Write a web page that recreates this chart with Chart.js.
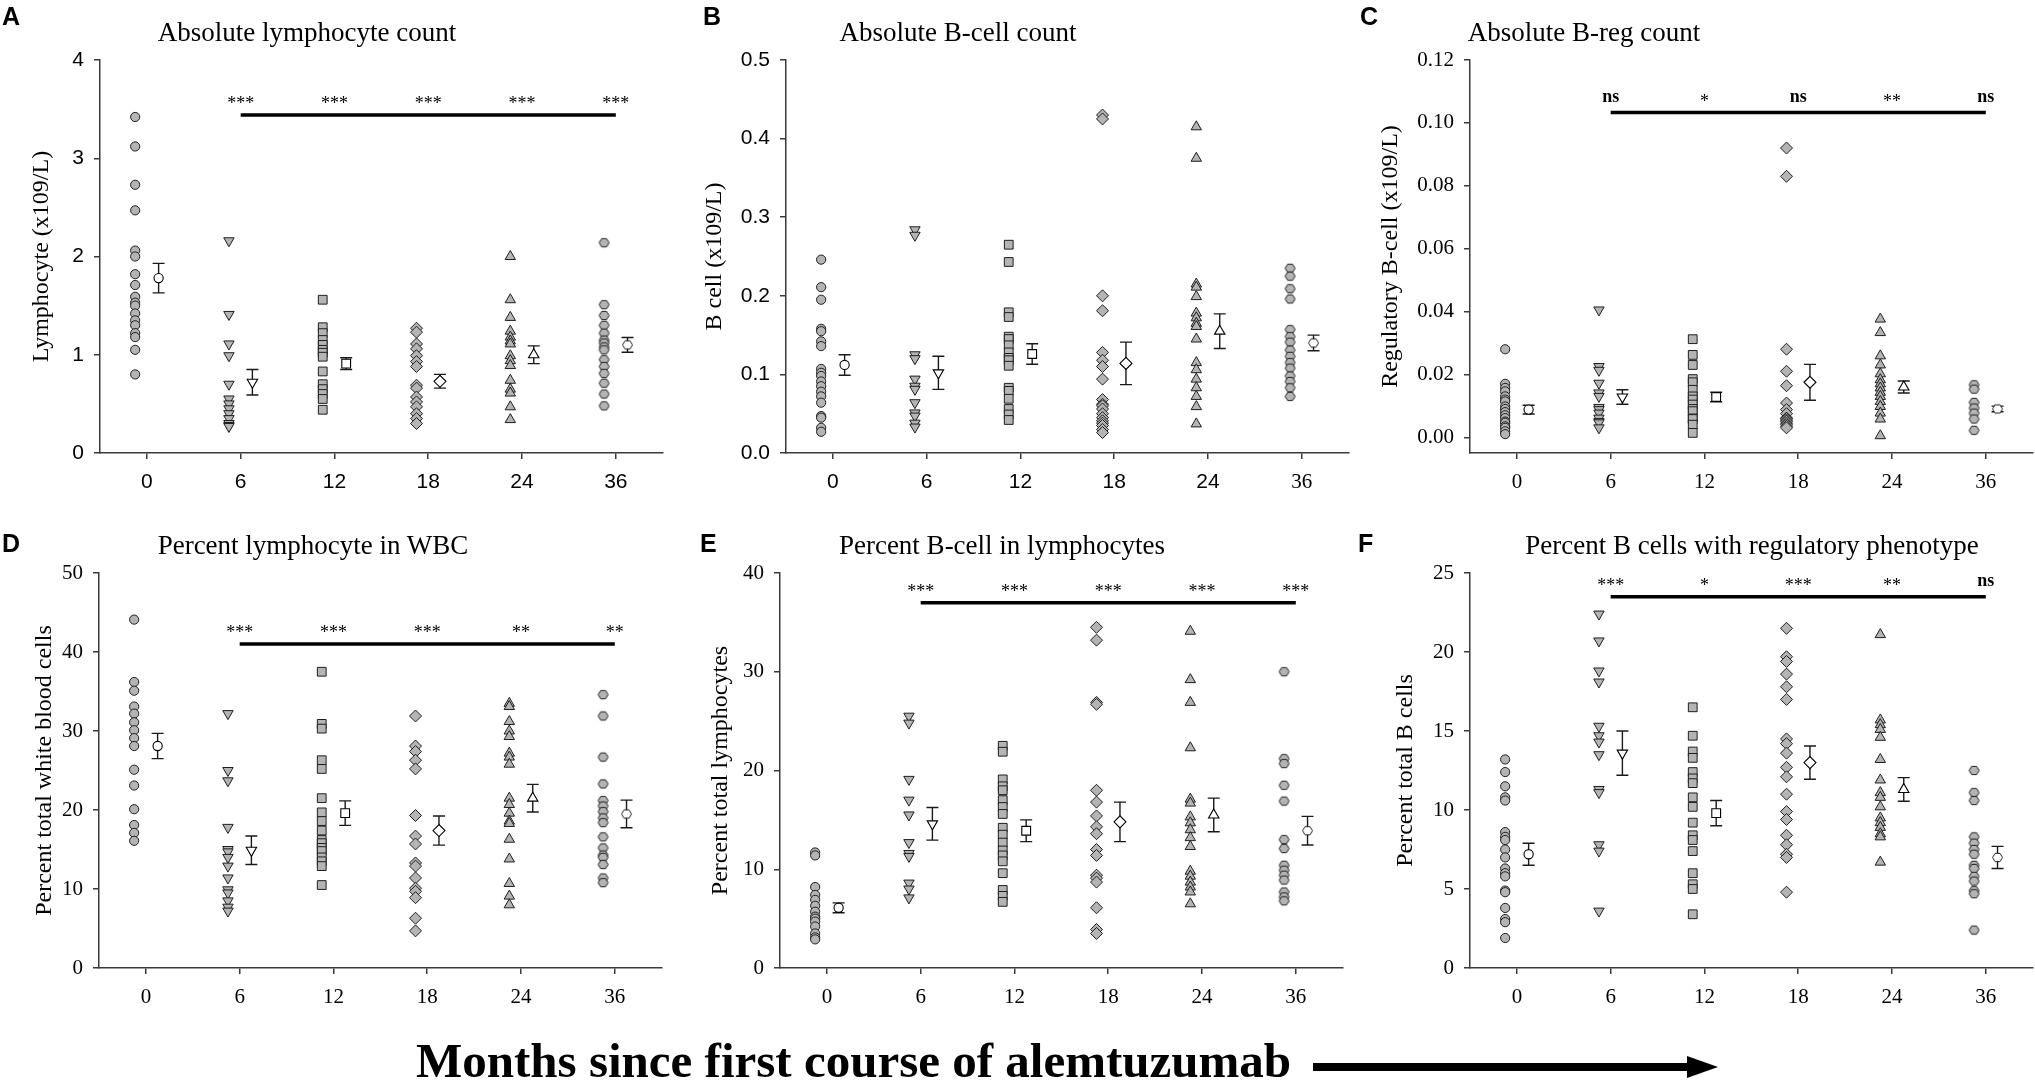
<!DOCTYPE html>
<html>
<head>
<meta charset="utf-8">
<script src="https://cdn.jsdelivr.net/npm/chart.js@4.4.1/dist/chart.umd.min.js"></script>
<style>
  body { margin: 0; background: #fff; width: 2035px; height: 1082px; position: relative; overflow: hidden; }
  canvas { position: absolute; }
  .letter { position: absolute; font: bold 25px "Liberation Sans", Arial, sans-serif; line-height: 25px; color: #000; }
  .ptitle { position: absolute; width: 800px; text-align: center; white-space: nowrap;
            font: 27px "Liberation Serif", "Times New Roman", serif; line-height: 27px; color: #000; }
  #xtitle { position: absolute; left: 416px; top: 1036px; white-space: nowrap;
            font: bold 49px "Liberation Serif", "Times New Roman", serif; line-height: 49px; color: #000; }
  #arrow { position: absolute; left: 1313px; top: 1052px; }
</style>
</head>
<body>
<canvas id="cA"></canvas>
<canvas id="cB"></canvas>
<canvas id="cC"></canvas>
<canvas id="cD"></canvas>
<canvas id="cE"></canvas>
<canvas id="cF"></canvas>

<div class="letter" style="left:2px;top:4px">A</div>
<div class="letter" style="left:703px;top:4px">B</div>
<div class="letter" style="left:1360px;top:4px">C</div>
<div class="letter" style="left:2px;top:531px">D</div>
<div class="letter" style="left:700px;top:531px">E</div>
<div class="letter" style="left:1358px;top:531px">F</div>

<div class="ptitle" style="left:-93px;top:19px">Absolute lymphocyte count</div>
<div class="ptitle" style="left:558px;top:19px">Absolute B-cell count</div>
<div class="ptitle" style="left:1184px;top:19px">Absolute B-reg count</div>
<div class="ptitle" style="left:-87px;top:532px">Percent lymphocyte in WBC</div>
<div class="ptitle" style="left:602px;top:532px">Percent B-cell in lymphocytes</div>
<div class="ptitle" style="left:1352px;top:532px">Percent B cells with regulatory phenotype</div>

<div id="xtitle">Months since first course of alemtuzumab</div>
<svg id="arrow" width="410" height="30">
  <rect x="0" y="11" width="376" height="8" fill="#000"></rect>
  <polygon points="374,4 405,15 374,26" fill="#000"></polygon>
</svg>

<script>
// timepoints (months since first course)
const months = ["0", "6", "12", "18", "24", "36"];

// A: absolute lymphocyte count (x109/L)
const lymphCount = [
  [3.42, 3.12, 2.73, 2.47, 2.06, 2.00, 1.82, 1.71, 1.59, 1.53, 1.50, 1.42, 1.35, 1.30, 1.22, 1.18, 1.05, 0.80],
  [2.16, 1.41, 1.11, 0.99, 0.70, 0.55, 0.50, 0.45, 0.40, 0.35, 0.30, 0.28, 0.27],
  [1.56, 1.28, 1.22, 1.15, 1.10, 1.05, 1.02, 0.98, 0.83, 0.70, 0.65, 0.60, 0.55, 0.44],
  [1.27, 1.23, 1.11, 1.06, 0.99, 0.93, 0.88, 0.69, 0.66, 0.57, 0.52, 0.47, 0.40, 0.35, 0.30],
  [2.00, 1.56, 1.38, 1.24, 1.18, 1.14, 1.11, 0.99, 0.94, 0.89, 0.74, 0.65, 0.61, 0.47, 0.34],
  [2.14, 1.51, 1.40, 1.30, 1.22, 1.15, 1.12, 1.08, 1.05, 0.95, 0.88, 0.81, 0.71, 0.60, 0.48],
];
const lymphMean = [1.78, 0.72, 0.91, 0.73, 1.00, 1.10];
const lymphSem = [0.15, 0.13, 0.06, 0.07, 0.09, 0.075];
const lymphSig = ["***", "***", "***", "***", "***"];
const lymphTicks = [0, 1, 2, 3, 4];

// B: absolute B-cell count (x109/L)
const bcellCount = [
  [0.246, 0.211, 0.195, 0.158, 0.155, 0.142, 0.136, 0.107, 0.102, 0.098, 0.091, 0.085, 0.078, 0.072, 0.064, 0.047, 0.045, 0.032, 0.027],
  [0.284, 0.277, 0.125, 0.120, 0.094, 0.085, 0.081, 0.064, 0.051, 0.047, 0.038, 0.033],
  [0.265, 0.243, 0.179, 0.173, 0.148, 0.145, 0.137, 0.128, 0.121, 0.118, 0.111, 0.083, 0.079, 0.069, 0.056, 0.049, 0.042],
  [0.430, 0.425, 0.200, 0.181, 0.128, 0.118, 0.110, 0.094, 0.068, 0.062, 0.060, 0.056, 0.050, 0.045, 0.041, 0.038, 0.035, 0.030, 0.026],
  [0.415, 0.375, 0.215, 0.211, 0.199, 0.178, 0.172, 0.165, 0.161, 0.145, 0.115, 0.106, 0.094, 0.083, 0.072, 0.059, 0.037],
  [0.235, 0.225, 0.209, 0.196, 0.157, 0.148, 0.141, 0.131, 0.123, 0.115, 0.108, 0.098, 0.091, 0.083, 0.072],
];
const bcellMean = [0.112, 0.102, 0.126, 0.114, 0.155, 0.140];
const bcellSem = [0.013, 0.021, 0.013, 0.027, 0.022, 0.010];
const bcellTicks = [0, 0.1, 0.2, 0.3, 0.4, 0.5];

// C: absolute regulatory B-cell count (x109/L)
const bregCount = [
  [0.028, 0.017, 0.0157, 0.0146, 0.013, 0.012, 0.0114, 0.0098, 0.009, 0.008, 0.007, 0.0061, 0.005, 0.0046, 0.0035, 0.003, 0.0019, 0.001],
  [0.0405, 0.0225, 0.0213, 0.0172, 0.0141, 0.013, 0.0095, 0.0088, 0.0077, 0.0061, 0.005, 0.0046, 0.003],
  [0.0312, 0.0262, 0.023, 0.0185, 0.0175, 0.0151, 0.013, 0.012, 0.0104, 0.009, 0.0083, 0.006, 0.0058, 0.004, 0.0014],
  [0.092, 0.083, 0.028, 0.021, 0.0164, 0.0109, 0.0088, 0.0075, 0.0061, 0.006, 0.0055, 0.0051, 0.0045, 0.004, 0.0035, 0.003],
  [0.0376, 0.0333, 0.0259, 0.023, 0.0202, 0.0183, 0.017, 0.0157, 0.0143, 0.013, 0.0114, 0.0098, 0.0077, 0.0058, 0.0005],
  [0.0167, 0.0153, 0.0111, 0.0093, 0.0077, 0.0058, 0.0022],
];
const bregMean = [0.0088, 0.0128, 0.0128, 0.0175, 0.016, 0.009];
const bregSem = [0.0014, 0.0023, 0.0015, 0.0057, 0.0019, 0.0009];
const bregSig = ["ns", "*", "ns", "**", "ns"];
const bregTicks = [0, 0.02, 0.04, 0.06, 0.08, 0.10, 0.12];

// D: percent lymphocytes in WBC
const lymphPct = [
  [44.1, 36.2, 35.1, 33.1, 32.2, 31.1, 30.1, 29.1, 28.1, 25.1, 23.1, 20.1, 18.1, 17.1, 16.1],
  [32.2, 25.0, 23.7, 17.8, 15.0, 14.7, 14.0, 12.9, 11.4, 9.9, 9.5, 8.5, 7.7, 7.2],
  [37.5, 30.9, 30.3, 26.3, 25.2, 21.5, 19.7, 18.6, 17.4, 16.2, 15.8, 15.2, 14.8, 14.0, 13.5, 12.9, 10.5],
  [31.9, 28.1, 27.4, 26.3, 25.2, 19.3, 16.7, 15.7, 13.3, 12.9, 11.4, 10.1, 9.7, 8.9, 6.3, 4.7],
  [33.5, 33.1, 31.2, 30.0, 29.3, 27.2, 26.7, 25.8, 21.5, 20.7, 19.6, 18.6, 18.3, 16.3, 13.8, 10.7, 9.1, 8.0],
  [34.6, 31.9, 26.7, 23.3, 21.2, 20.5, 19.8, 19.0, 18.4, 16.6, 15.2, 14.3, 14.0, 13.1, 11.4, 10.8],
];
const lymphPctMean = [28.1, 14.9, 19.6, 17.4, 21.5, 19.5];
const lymphPctSem = [1.6, 1.8, 1.55, 1.85, 1.75, 1.75];
const lymphPctSig = ["***", "***", "***", "**", "**"];
const lymphPctTicks = [0, 10, 20, 30, 40, 50];

// E: percent B-cells in lymphocytes
const bcellPct = [
  [11.7, 11.4, 8.2, 7.4, 6.9, 6.3, 5.7, 5.2, 5.0, 4.7, 4.2, 3.5, 3.1, 2.9],
  [25.5, 24.8, 19.1, 17.0, 15.5, 12.7, 11.6, 11.3, 8.6, 8.0, 7.1],
  [22.5, 21.9, 19.1, 18.4, 18.0, 17.0, 16.3, 15.6, 14.2, 13.5, 12.7, 11.9, 11.4, 10.8, 9.6, 7.9, 7.3, 6.7],
  [34.5, 33.2, 26.9, 26.7, 18.0, 16.8, 15.4, 14.3, 13.6, 12.0, 11.4, 9.4, 9.1, 8.7, 6.1, 3.9, 3.5],
  [34.1, 29.2, 26.9, 22.3, 17.1, 16.7, 15.3, 14.7, 14.0, 13.2, 12.3, 9.8, 9.3, 8.7, 8.2, 7.7, 6.5],
  [30.0, 21.2, 20.7, 18.5, 16.9, 13.0, 12.1, 10.4, 9.9, 9.4, 8.9, 7.7, 7.2, 6.8],
];
const bcellPctMean = [6.1, 14.6, 13.9, 14.8, 15.5, 13.9];
const bcellPctSem = [0.5, 1.65, 1.1, 2.0, 1.7, 1.45];
const bcellPctSig = ["***", "***", "***", "***", "***"];
const bcellPctTicks = [0, 10, 20, 30, 40];

// F: percent B cells with regulatory phenotype
const bregPct = [
  [13.2, 12.4, 11.5, 10.8, 10.6, 8.6, 8.3, 8.1, 7.5, 7.0, 6.3, 6.0, 5.8, 4.9, 4.8, 3.8, 3.1, 2.9, 1.9],
  [22.4, 20.7, 18.8, 18.1, 15.3, 14.7, 14.3, 13.5, 11.3, 11.1, 7.8, 7.4, 3.6],
  [16.5, 14.7, 13.7, 13.3, 12.4, 12.0, 11.7, 10.8, 10.2, 9.2, 8.4, 8.1, 7.4, 6.0, 5.3, 5.0, 3.4],
  [21.5, 19.7, 19.4, 18.6, 17.8, 17.0, 14.5, 14.2, 13.6, 12.7, 12.1, 11.0, 9.9, 9.4, 8.4, 7.8, 7.2, 7.0, 4.8],
  [21.1, 15.7, 15.4, 15.1, 14.6, 13.2, 11.9, 11.1, 10.8, 10.2, 9.5, 9.2, 8.9, 8.5, 8.3, 6.7],
  [12.5, 11.1, 10.6, 8.3, 7.9, 7.5, 7.2, 6.5, 6.3, 5.8, 5.5, 4.9, 4.7, 2.4],
];
const bregPctMean = [7.2, 13.6, 9.8, 13.0, 11.3, 7.0];
const bregPctSem = [0.7, 1.4, 0.8, 1.05, 0.75, 0.7];
const bregPctSig = ["***", "*", "***", "**", "ns"];
const bregPctTicks = [0, 5, 10, 15, 20, 25];

const SANS = '"Liberation Sans", Arial, sans-serif';
const SERIF = '"Liberation Serif", "Times New Roman", serif';
const AXIS_W = 95;   // width reserved for y axis
const AXIS_H = 70;   // height reserved for x axis
const PLOT_W = 564;

// hexagon marker for the 36 month group
function hexagon(r, fill) {
  const c = document.createElement("canvas");
  const s = Math.ceil(r * 2 + 3);
  c.width = s;
  c.height = s;
  const g = c.getContext("2d");
  g.beginPath();
  for (let k = 0; k < 6; k++) {
    const a = (Math.PI / 3) * k;
    const px = s / 2 + r * Math.cos(a);
    const py = s / 2 + r * Math.sin(a) * 0.95;
    k ? g.lineTo(px, py) : g.moveTo(px, py);
  }
  g.closePath();
  g.fillStyle = fill;
  g.fill();
  g.strokeStyle = "#1e1e1e";
  g.lineWidth = 1;
  g.stroke();
  return c;
}
const hexGrey = hexagon(5, "#b4b4b4");
const hexWhite = hexagon(5, "#ffffff");

const styles = ["circle", "triangle", "rect", "rectRot", "triangle", null];
const rotations = [0, 180, 0, 0, 0, 0];
const radii = [4.6, 6, 6.2, 6, 6, 5];

// error bars behind the open mean markers
const errorBars = {
  id: "errorBars",
  beforeDatasetsDraw(chart, args, opts) {
    const { ctx, scales: { x, y } } = chart;
    ctx.save();
    ctx.strokeStyle = "#1a1a1a";
    ctx.lineWidth = 1.4;
    opts.mean.forEach((m, i) => {
      const px = x.getPixelForValue(i + 0.125);
      const top = y.getPixelForValue(m + opts.sem[i]);
      const bot = y.getPixelForValue(m - opts.sem[i]);
      ctx.beginPath();
      ctx.moveTo(px, top); ctx.lineTo(px, bot);
      ctx.moveTo(px - 6, top); ctx.lineTo(px + 6, top);
      ctx.moveTo(px - 6, bot); ctx.lineTo(px + 6, bot);
      ctx.stroke();
    });
    ctx.restore();
  },
};

// significance bar with labels vs baseline
const sigBar = {
  id: "sigBar",
  afterDatasetsDraw(chart, args, opts) {
    if (!opts.labels) return;
    const { ctx, scales: { x, y } } = chart;
    const py = y.getPixelForValue(opts.y);
    ctx.save();
    ctx.strokeStyle = "#000";
    ctx.lineWidth = 3.5;
    ctx.beginPath();
    ctx.moveTo(x.getPixelForValue(1), py);
    ctx.lineTo(x.getPixelForValue(5), py);
    ctx.stroke();
    ctx.fillStyle = "#000";
    ctx.textAlign = "center";
    ctx.textBaseline = "alphabetic";
    opts.labels.forEach((lab, i) => {
      const cx = x.getPixelForValue(i + 1);
      if (lab === "ns") {
        ctx.font = "bold 18px " + SERIF;
        ctx.fillText(lab, cx, py - 15 + 4);
      } else {
        ctx.font = "18px " + SERIF;
        ctx.fillText(lab, cx, py - 15 + 9);
      }
    });
    ctx.restore();
  },
};

const panels = [
  { id: "cA", axisX: 100, top: 0, padTop: 60, h: 523, values: lymphCount, mean: lymphMean, sem: lymphSem,
    ticks: lymphTicks, dec: 0, min: 0, max: 4, yTitle: "Lymphocyte (x109/L)", titlePad: 22.6, font: SANS,
    sig: lymphSig, sigY: 3.44 },
  { id: "cB", axisX: 786, top: 0, padTop: 60, h: 523, values: bcellCount, mean: bcellMean, sem: bcellSem,
    ticks: bcellTicks, dec: 1, min: 0, max: 0.5, yTitle: "B cell (x109/L)", titlePad: 9.6, font: SANS,
    sig: null, sigY: 0 },
  { id: "cC", axisX: 1470, top: 0, padTop: 60, h: 523, values: bregCount, mean: bregMean, sem: bregSem,
    ticks: bregTicks, dec: 2, min: -0.005, max: 0.12, yTitle: "Regulatory B-cell (x109/L)", titlePad: 1.6, font: SERIF,
    sig: bregSig, sigY: 0.1033 },
  { id: "cD", axisX: 99, top: 520, padTop: 53, h: 518, values: lymphPct, mean: lymphPctMean, sem: lymphPctSem,
    ticks: lymphPctTicks, dec: 0, min: 0, max: 50, yTitle: "Percent total white blood cells", titlePad: 26.6, font: SERIF,
    sig: lymphPctSig, sigY: 41.0 },
  { id: "cE", axisX: 780, top: 520, padTop: 53, h: 518, values: bcellPct, mean: bcellPctMean, sem: bcellPctSem,
    ticks: bcellPctTicks, dec: 0, min: 0, max: 40, yTitle: "Percent total lymphocytes", titlePad: 21.6, font: SERIF,
    sig: bcellPctSig, sigY: 37.0 },
  { id: "cF", axisX: 1470, top: 520, padTop: 53, h: 518, values: bregPct, mean: bregPctMean, sem: bregPctSem,
    ticks: bregPctTicks, dec: 0, min: 0, max: 25, yTitle: "Percent total B cells", titlePad: 16.6, font: SERIF,
    sig: bregPctSig, sigY: 23.5 },
];

panels.forEach((p) => {
  const canvas = document.getElementById(p.id);
  const w = AXIS_W + PLOT_W + 6;
  canvas.width = w;
  canvas.height = p.h;
  canvas.style.left = (p.axisX - AXIS_W) + "px";
  canvas.style.top = p.top + "px";
  canvas.style.width = w + "px";
  canvas.style.height = p.h + "px";

  const datasets = [];
  p.values.forEach((vals, i) => {
    datasets.push({
      data: vals.map((v) => ({ x: i - 0.125, y: v })),
      pointStyle: styles[i] || hexGrey,
      pointRotation: rotations[i],
      pointRadius: radii[i],
      pointBackgroundColor: "#b4b4b4",
      pointBorderColor: "#1e1e1e",
      pointBorderWidth: 1,
    });
  });
  p.mean.forEach((m, i) => {
    datasets.push({
      data: [{ x: i + 0.125, y: m }],
      pointStyle: styles[i] || hexWhite,
      pointRotation: rotations[i],
      pointRadius: radii[i],
      pointBackgroundColor: "#ffffff",
      pointBorderColor: "#000000",
      pointBorderWidth: 1.1,
    });
  });

  const axisColor = "#3a3a3a";
  new Chart(canvas, {
    type: "scatter",
    data: { datasets },
    plugins: [errorBars, sigBar],
    options: {
      responsive: false,
      animation: false,
      clip: false,
      layout: { padding: { left: 0, right: 6, top: p.padTop, bottom: 0 } },
      plugins: {
        legend: { display: false },
        tooltip: { enabled: false },
        errorBars: { mean: p.mean, sem: p.sem },
        sigBar: { labels: p.sig, y: p.sigY },
      },
      scales: {
        x: {
          type: "linear",
          min: -0.5,
          max: 5.5,
          afterBuildTicks: (s) => { s.ticks = months.map((_, i) => ({ value: i })); },
          afterFit: (s) => { s.height = AXIS_H; },
          ticks: {
            callback: (v) => months[v],
            color: "#000",
            padding: 11,
            maxRotation: 0,
            font: (ctx) => ({
              family: p.id === "cB" && ctx.tick && ctx.tick.value === 5 ? SERIF : p.font,
              size: 21,
            }),
          },
          grid: { display: true, drawOnChartArea: false, drawTicks: true, tickLength: 6, color: axisColor, lineWidth: 1.5 },
          border: { display: true, color: axisColor, width: 1.5 },
        },
        y: {
          type: "linear",
          min: p.min,
          max: p.max,
          afterBuildTicks: (s) => { s.ticks = p.ticks.map((v) => ({ value: v })); },
          afterFit: (s) => { s.width = AXIS_W; },
          ticks: {
            callback: (v) => Number(v).toFixed(p.dec),
            color: "#000",
            padding: 10,
            font: { family: p.font, size: 21 },
          },
          grid: { display: true, drawOnChartArea: false, drawTicks: true, tickLength: 6, color: axisColor, lineWidth: 1.5 },
          border: { display: true, color: axisColor, width: 1.5 },
          title: {
            display: true,
            text: p.yTitle,
            color: "#000",
            font: { family: SERIF, size: 24 },
            padding: { top: p.titlePad, bottom: 0 },
          },
        },
      },
    },
  });
});
</script>
</body>
</html>
